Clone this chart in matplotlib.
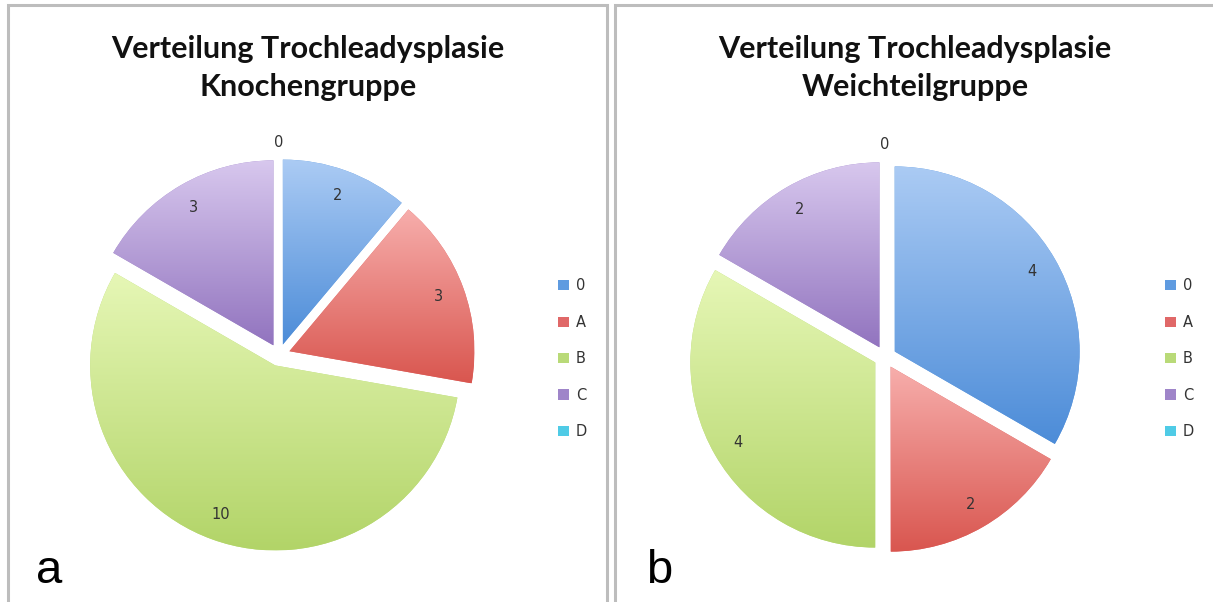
import numpy as np
import matplotlib
matplotlib.use("Agg")
import matplotlib.pyplot as plt
from matplotlib.colors import LinearSegmentedColormap
from matplotlib.patches import Patch, Rectangle

# --- data -------------------------------------------------------------
categories = ["0", "A", "B", "C", "D"]
knochen_values = [2, 3, 10, 3, 0]
weichteil_values = [4, 2, 4, 2, 0]
titles = ["Verteilung Trochleadysplasie\nKnochengruppe",
          "Verteilung Trochleadysplasie\nWeichteilgruppe"]
panel_letters = ["a", "b"]

# gradient colours per category (top, bottom) and flat legend colours
grad_top = ["#abcbf4", "#f7aeac", "#e6f7b6", "#d8c8ee", "#8fe0f2"]
grad_bottom = ["#4c8cd8", "#d9564f", "#b2d468", "#9274bf", "#3cc3e3"]
legend_colors = ["#5f9be0", "#e06868", "#b9da78", "#9f85c9", "#4fcbe6"]

W, H = 1213, 602
fig = plt.figure(figsize=(W / 100, H / 100), dpi=100)
fig.patch.set_facecolor("white")


def fx(px):
    return px / W


def fy(py):
    return 1 - py / H


# panel frames
for x0, x1 in [(8, 607), (615, 1240)]:
    fig.add_artist(Rectangle((fx(x0), fy(700)), fx(x1) - fx(x0), fy(5) - fy(700),
                             transform=fig.transFigure, fill=False,
                             edgecolor="#bdbdbd", linewidth=2.2, clip_on=False))

R_PX = 185.0
BOX = 250.0


def draw_pie(values, cx, cy, title, title_x, legend_x, letter, letter_x):
    ax = fig.add_axes([fx(cx - BOX), fy(cy + BOX), 2 * BOX / W, 2 * BOX / H])
    lim = BOX / R_PX
    explode = [0.06 if v > 0 else 0.0 for v in values]
    wedges, _ = ax.pie(values, explode=explode, startangle=90, counterclock=False,
                       radius=1.0, colors=legend_colors,
                       wedgeprops=dict(linewidth=0))
    grad = np.linspace(0, 1, 256)[:, None]
    for i, (w, v) in enumerate(zip(wedges, values)):
        mid = np.deg2rad((w.theta1 + w.theta2) / 2)
        wcx, wcy = w.center
        if v > 0:
            ext = w.get_path().get_extents()
            cmap = LinearSegmentedColormap.from_list(f"g{i}", [grad_top[i], grad_bottom[i]])
            im = ax.imshow(grad, cmap=cmap, extent=[ext.x0, ext.x1, ext.y0, ext.y1],
                           origin="upper", aspect="auto", interpolation="bicubic",
                           zorder=w.get_zorder() + 0.1)
            im.set_clip_path(w)
            d = 0.86
        else:
            d = 1.15
        ax.text(wcx + d * np.cos(mid), wcy + d * np.sin(mid), f"{v}",
                ha="center", va="center", fontsize=10.5, color="#333333",
                family="DejaVu Sans", zorder=10)
    ax.set_xlim(-lim, lim)
    ax.set_ylim(-lim, lim)
    ax.set_aspect("equal")
    ax.axis("off")

    fig.text(fx(title_x), fy(68), title, ha="center", va="center",
             fontsize=22, fontweight="bold", family="Lato", color="#111111",
             linespacing=1.45)

    handles = [Patch(facecolor=c, edgecolor="none") for c in legend_colors]
    fig.legend(handles, categories, loc="upper left",
               bbox_to_anchor=(fx(legend_x), fy(271)), frameon=False,
               fontsize=10.5, handlelength=0.7, handleheight=0.7,
               handletextpad=0.5, labelspacing=1.47, borderpad=0,
               labelcolor="#333333")

    fig.text(fx(letter_x), fy(571), letter, ha="left", va="center",
             fontsize=34, family="Liberation Sans", color="black")


draw_pie(knochen_values, 279, 355, titles[0], 308, 551, panel_letters[0], 36)
draw_pie(weichteil_values, 885, 357, titles[1], 915, 1158, panel_letters[1], 646)

fig.savefig("out.png", dpi=100, facecolor="white")
